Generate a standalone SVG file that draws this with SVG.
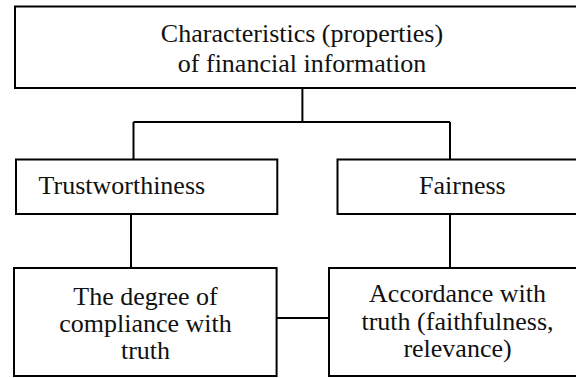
<svg xmlns="http://www.w3.org/2000/svg" width="576" height="378" viewBox="0 0 576 378">
  <style>
    .box { fill: #ffffff; stroke: #000000; stroke-width: 2; }
    .link { fill: none; stroke: #000000; stroke-width: 2; }
    text { font-family: 'Times New Roman', 'Liberation Serif', Tinos, 'DejaVu Serif', serif; font-size: 26px; fill: #111111; }
    .mid { text-anchor: middle; }
  </style>
  <rect width="576" height="378" fill="#ffffff"/>

  <!-- connectors -->
  <g id="connectors">
    <path class="link" d="M302.4 88 V122 M133.5 122 H450 M133.5 122 V159.5 M450 122 V159.5"/>
    <path class="link" d="M131 214 V268 M450 214 V268"/>
    <path class="link" d="M276.6 318 H329"/>
  </g>

  <!-- root node -->
  <g id="node-characteristics">
    <rect class="box" x="15" y="6.5" width="600" height="81.5"/>
    <text class="mid" x="302" y="42.3">Characteristics (properties)</text>
    <text class="mid" x="302" y="72.3">of financial information</text>
  </g>

  <!-- second level -->
  <g id="node-trustworthiness">
    <rect class="box" x="16" y="159.5" width="261.3" height="54.5"/>
    <text x="38.5" y="194.3">Trustworthiness</text>
  </g>
  <g id="node-fairness">
    <rect class="box" x="337.5" y="159.5" width="280" height="54.5"/>
    <text x="419" y="194.3">Fairness</text>
  </g>

  <!-- third level -->
  <g id="node-degree">
    <rect class="box" x="14" y="268" width="262.6" height="108"/>
    <text class="mid" x="145.5" y="304.5">The degree of</text>
    <text class="mid" x="145.5" y="332">compliance with</text>
    <text class="mid" x="145.5" y="359">truth</text>
  </g>
  <g id="node-accordance">
    <rect class="box" x="329" y="268" width="280" height="108"/>
    <text class="mid" x="457.5" y="302">Accordance with</text>
    <text class="mid" x="457.5" y="330">truth (faithfulness,</text>
    <text class="mid" x="457.5" y="357">relevance)</text>
  </g>
</svg>
